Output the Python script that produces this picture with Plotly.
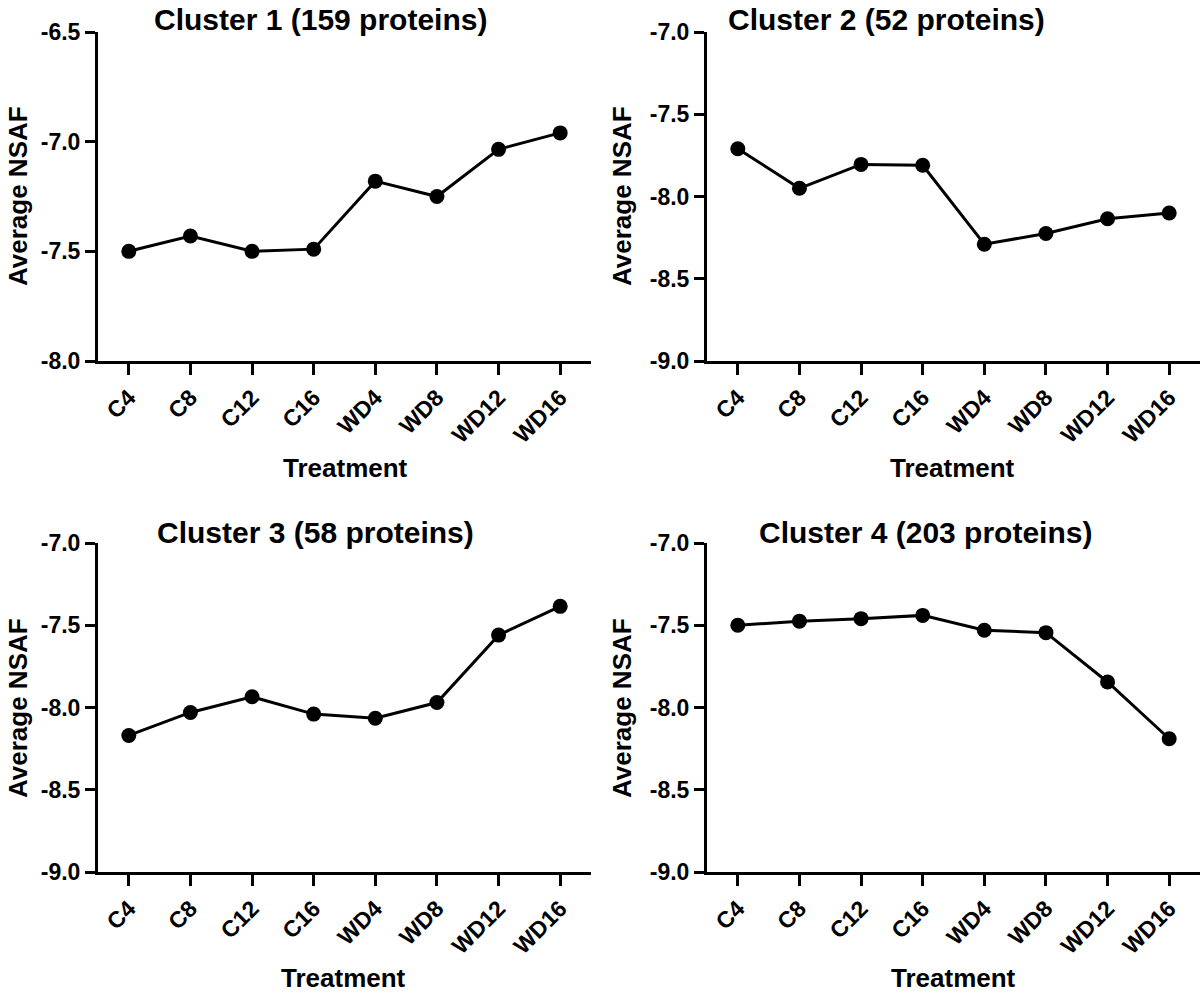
import plotly.graph_objects as go

categories = ["C4", "C8", "C12", "C16", "WD4", "WD8", "WD12", "WD16"]
cluster1 = [-7.50, -7.43, -7.50, -7.49, -7.18, -7.25, -7.035, -6.96]
cluster2 = [-7.71, -7.95, -7.805, -7.81, -8.29, -8.225, -8.135, -8.10]
cluster3 = [-8.17, -8.03, -7.935, -8.04, -8.065, -7.97, -7.56, -7.385]
cluster4 = [-7.50, -7.475, -7.46, -7.44, -7.53, -7.545, -7.845, -8.19]
titles = ["Cluster 1 (159 proteins)", "Cluster 2 (52 proteins)",
          "Cluster 3 (58 proteins)", "Cluster 4 (203 proteins)"]
yticks1 = [-6.5, -7.0, -7.5, -8.0]
ytext1 = ["-6.5", "-7.0", "-7.5", "-8.0"]
yticks_other = [-7.0, -7.5, -8.0, -8.5, -9.0]
ytext_other = ["-7.0", "-7.5", "-8.0", "-8.5", "-9.0"]

W, H = 1200, 997
FONT = "Liberation Sans"

def px(x):
    return x / W

def py(y):
    return 1 - y / H

# panel pixel boxes: (left, right, top, bottom)
boxes = [(98, 591, 32, 361), (707, 1200, 32, 361),
         (98, 591, 543, 872), (707, 1200, 543, 872)]
series = [cluster1, cluster2, cluster3, cluster4]
yranges = [(-8.0, -6.5), (-9.0, -7.0), (-9.0, -7.0), (-9.0, -7.0)]
title_pos = [(320, 19), (886, 19), (316, 532), (925, 532)]
xtitle_pos = [(345, 468), (952, 468), (343, 978), (953, 978)]
ytitle_pos = [(18, 196), (622, 196), (18, 708), (622, 708)]

fig = go.Figure()
layout = dict(width=W, height=H, margin=dict(l=0, r=0, t=0, b=0, pad=0),
              autosize=False,
              paper_bgcolor="white", plot_bgcolor="white", showlegend=False,
              font=dict(family=FONT, color="black"))
annotations = []

for i, (vals, box) in enumerate(zip(series, boxes)):
    n = "" if i == 0 else str(i + 1)
    fig.add_trace(go.Scatter(
        x=categories, y=vals, mode="lines+markers",
        xaxis="x" + n, yaxis="y" + n,
        line=dict(color="black", width=3),
        marker=dict(color="black", size=15),
        cliponaxis=False,
    ))
    l, r, t, b = box
    tv = yticks1 if i == 0 else yticks_other
    tt = ytext1 if i == 0 else ytext_other
    layout["xaxis" + n] = dict(
        domain=[px(l), min(px(r), 1.0)], anchor="y" + n, type="category",
        categoryorder="array", categoryarray=categories, automargin=False,
        range=[-0.5, 7.5], showline=True, linecolor="black", linewidth=3,
        ticks="outside", ticklen=11, tickwidth=3, tickcolor="black",
        tickangle=-45, showgrid=False, zeroline=False,
        tickfont=dict(family=FONT, size=23, color="black", weight="bold"),
    )
    layout["yaxis" + n] = dict(
        domain=[py(b), py(t)], anchor="x" + n, automargin=False,
        range=list(yranges[i]), showline=True, linecolor="black", linewidth=3,
        ticks="outside", ticklen=10, tickwidth=3, tickcolor="black",
        tickvals=tv, ticktext=tt, showgrid=False, zeroline=False,
        tickfont=dict(family=FONT, size=23, color="black", weight="bold"),
    )
    tx, ty = title_pos[i]
    annotations.append(dict(text="<b>" + titles[i] + "</b>", x=px(tx), y=py(ty),
                            xref="paper", yref="paper", showarrow=False,
                            xanchor="center", yanchor="middle",
                            font=dict(family=FONT, size=30, color="black")))
    ax, ay = xtitle_pos[i]
    annotations.append(dict(text="<b>Treatment</b>", x=px(ax), y=py(ay),
                            xref="paper", yref="paper", showarrow=False,
                            xanchor="center", yanchor="middle",
                            font=dict(family=FONT, size=26, color="black")))
    yx, yy = ytitle_pos[i]
    annotations.append(dict(text="<b>Average NSAF</b>", x=px(yx), y=py(yy),
                            xref="paper", yref="paper", showarrow=False,
                            xanchor="center", yanchor="middle", textangle=-90,
                            font=dict(family=FONT, size=26, color="black")))

layout["annotations"] = annotations
fig.update_layout(**layout)
fig.write_html(
    "out.html",
    config={"displayModeBar": False},
    post_script="document.body.style.margin='0';document.body.style.padding='0';",
)
